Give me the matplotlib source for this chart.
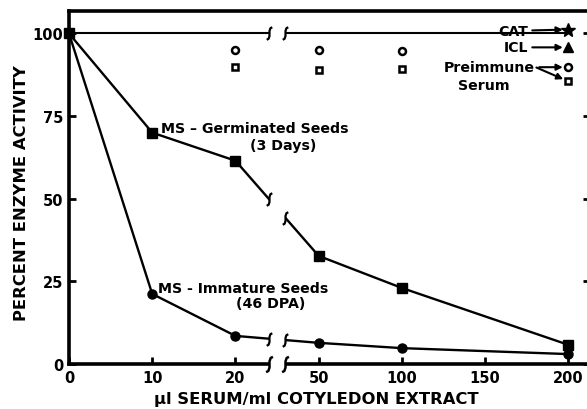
import numpy as np
import matplotlib
matplotlib.use("Agg")
import matplotlib.pyplot as plt
from matplotlib.path import Path

# Doses (ul serum / ml cotyledon extract)
doses = [0, 10, 20, 50, 100, 200]
germinated_pct = [100, 70, 61.5, 32.7, 23, 5.8]
immature_pct = [100, 21.2, 8.5, 6.4, 4.8, 3.0]

# CAT / ICL control line
control_x = [0, 20, 50, 100, 200]
control_pct = [100, 100, 100, 100, 100]
cat_x, cat_pct = [200], [101.2]
icl_x, icl_pct = [200], [95.8]

# Preimmune serum points
pre_x = [20, 50, 100, 200]
pre_circle_pct = [95, 95, 94.6, 89.8]
pre_square_pct = [90, 89, 89.2, 85.5]

xticks = [0, 10, 20, 50, 100, 150, 200]
yticks = [0, 25, 50, 75, 100]

# broken x axis: 0-24 linear, gap 24-30, 30-213 compressed 5x
def fwd(x):
    x = np.asarray(x, dtype=float)
    return np.where(x <= 24, x, np.where(x < 30, 24 + (x - 24) / 3, 30 + (x - 50) / 5))

def inv(u):
    u = np.asarray(u, dtype=float)
    return np.where(u <= 24, u, np.where(u < 26, 24 + 3 * (u - 24), 50 + 5 * (u - 30)))

BRK_LO, BRK_HI = 24, 30

# little integral-sign shaped break mark
brk_marker = Path([(0.45, 1.0), (0.15, 0.85), (0.0, 0.4), (0.0, -0.4),
                   (-0.15, -0.85), (-0.45, -1.0)])

plt.rcParams["font.family"] = "DejaVu Sans"
plt.rcParams["font.weight"] = "bold"

fig = plt.figure(figsize=(5.87, 4.10), dpi=100)
ax = fig.add_axes([69 / 587, 1 - 365 / 410, (590 - 69) / 587, (365 - 12) / 410])
ax.set_xscale("function", functions=(fwd, inv))
ax.set_xlim(0, 213)
ax.set_ylim(0, 106.8)

lw = 1.7
ax.plot(control_x, control_pct, color="black", lw=1.5, zorder=2)
ax.plot(doses, germinated_pct, color="black", lw=lw, marker="s", ms=7,
        zorder=2, clip_on=False)
ax.plot(doses, immature_pct, color="black", lw=lw, marker="o", ms=6.5,
        zorder=2, clip_on=False)
ax.plot(pre_x, pre_circle_pct, ls="none", marker="o", ms=5, mfc="white",
        mec="black", mew=1.8, zorder=4)
ax.plot(pre_x, pre_square_pct, ls="none", marker="s", ms=5, mfc="white",
        mec="black", mew=1.8, zorder=4)
ax.plot(cat_x, cat_pct, ls="none", marker="*", ms=10, color="black", zorder=4)
ax.plot(icl_x, icl_pct, ls="none", marker="^", ms=7, color="black", zorder=4)

# white gap for the axis break
ax.axvspan(BRK_LO, BRK_HI, ymin=-0.02, ymax=0.96, color="white", zorder=3,
           clip_on=False, lw=0)

def brk_y(xs, ys, xb):
    return float(np.interp(fwd(xb), fwd(xs), ys))

for xb in (BRK_LO, BRK_HI):
    for xs, ys in ((control_x, control_pct), (doses, germinated_pct),
                   (doses, immature_pct)):
        ax.plot([xb], [brk_y(xs, ys, xb)], marker=brk_marker, ms=9,
                mfc="none", mec="black", mew=1.6, zorder=5, clip_on=False)
    ax.plot([xb], [0], marker=brk_marker, ms=11, mfc="none", mec="black",
            mew=1.8, zorder=5, clip_on=False)

# spines and ticks
for s in ("left", "bottom", "top"):
    ax.spines[s].set_linewidth(2.6)
ax.spines["right"].set_visible(False)
ax.set_xticks(xticks)
ax.set_xticklabels([str(t) for t in xticks])
ax.set_yticks(yticks)
ax.set_yticklabels([str(t) for t in yticks])
ax.xaxis.set_minor_locator(matplotlib.ticker.NullLocator())
ax.tick_params(axis="both", direction="in", length=5, width=2, labelsize=10.5)
ax.tick_params(axis="y", right=True, pad=4)
ax.tick_params(axis="x", pad=4)

ax.set_xlabel("µl SERUM/ml COTYLEDON EXTRACT", fontsize=11.8, fontweight="bold")
ax.set_ylabel("PERCENT ENZYME ACTIVITY", fontsize=11.8, fontweight="bold")
ax.xaxis.label.set_va("center")
ax.yaxis.label.set_va("center")
ax.xaxis.set_label_coords(0.475, -0.099)
ax.yaxis.set_label_coords(-0.092, 0.487)

# curve labels
tk = dict(textcoords="offset points", fontsize=10.2, fontweight="bold")
ax.annotate("MS – Germinated Seeds", xy=(10, 70), xytext=(6, 3),
            ha="left", va="center", **tk)
ax.annotate("(3 Days)", xy=(10, 70), xytext=(94, -9), ha="center",
            va="center", **tk)
ax.annotate("MS - Immature Seeds", xy=(10, 21.2), xytext=(4, 4.5),
            ha="left", va="center", **tk)
ax.annotate("(46 DPA)", xy=(10, 21.2), xytext=(85, -6.5), ha="center",
            va="center", **tk)

arrow = dict(arrowstyle="-|>", color="black", lw=1.5, mutation_scale=9,
             shrinkA=1, shrinkB=4)
ax.annotate("CAT", xy=(cat_x[0], cat_pct[0]), xytext=(-29, -1), ha="right",
            va="center", arrowprops=arrow, **tk)
ax.annotate("ICL", xy=(icl_x[0], icl_pct[0]), xytext=(-29, 0), ha="right",
            va="center", arrowprops=arrow, **tk)
ax.annotate("Preimmune", xy=(pre_x[-1], pre_circle_pct[-1]), xytext=(-24, 0),
            ha="right", va="center", arrowprops=arrow, **tk)
ax.annotate("", xy=(pre_x[-1], pre_square_pct[-1]), xytext=(-23, 10),
            textcoords="offset points", arrowprops=dict(arrow, shrinkA=0))
ax.annotate("Serum", xy=(pre_x[-1], pre_circle_pct[-1]), xytext=(-61, -13),
            ha="center", va="center", **tk)

fig.savefig("out.png", dpi=100)
